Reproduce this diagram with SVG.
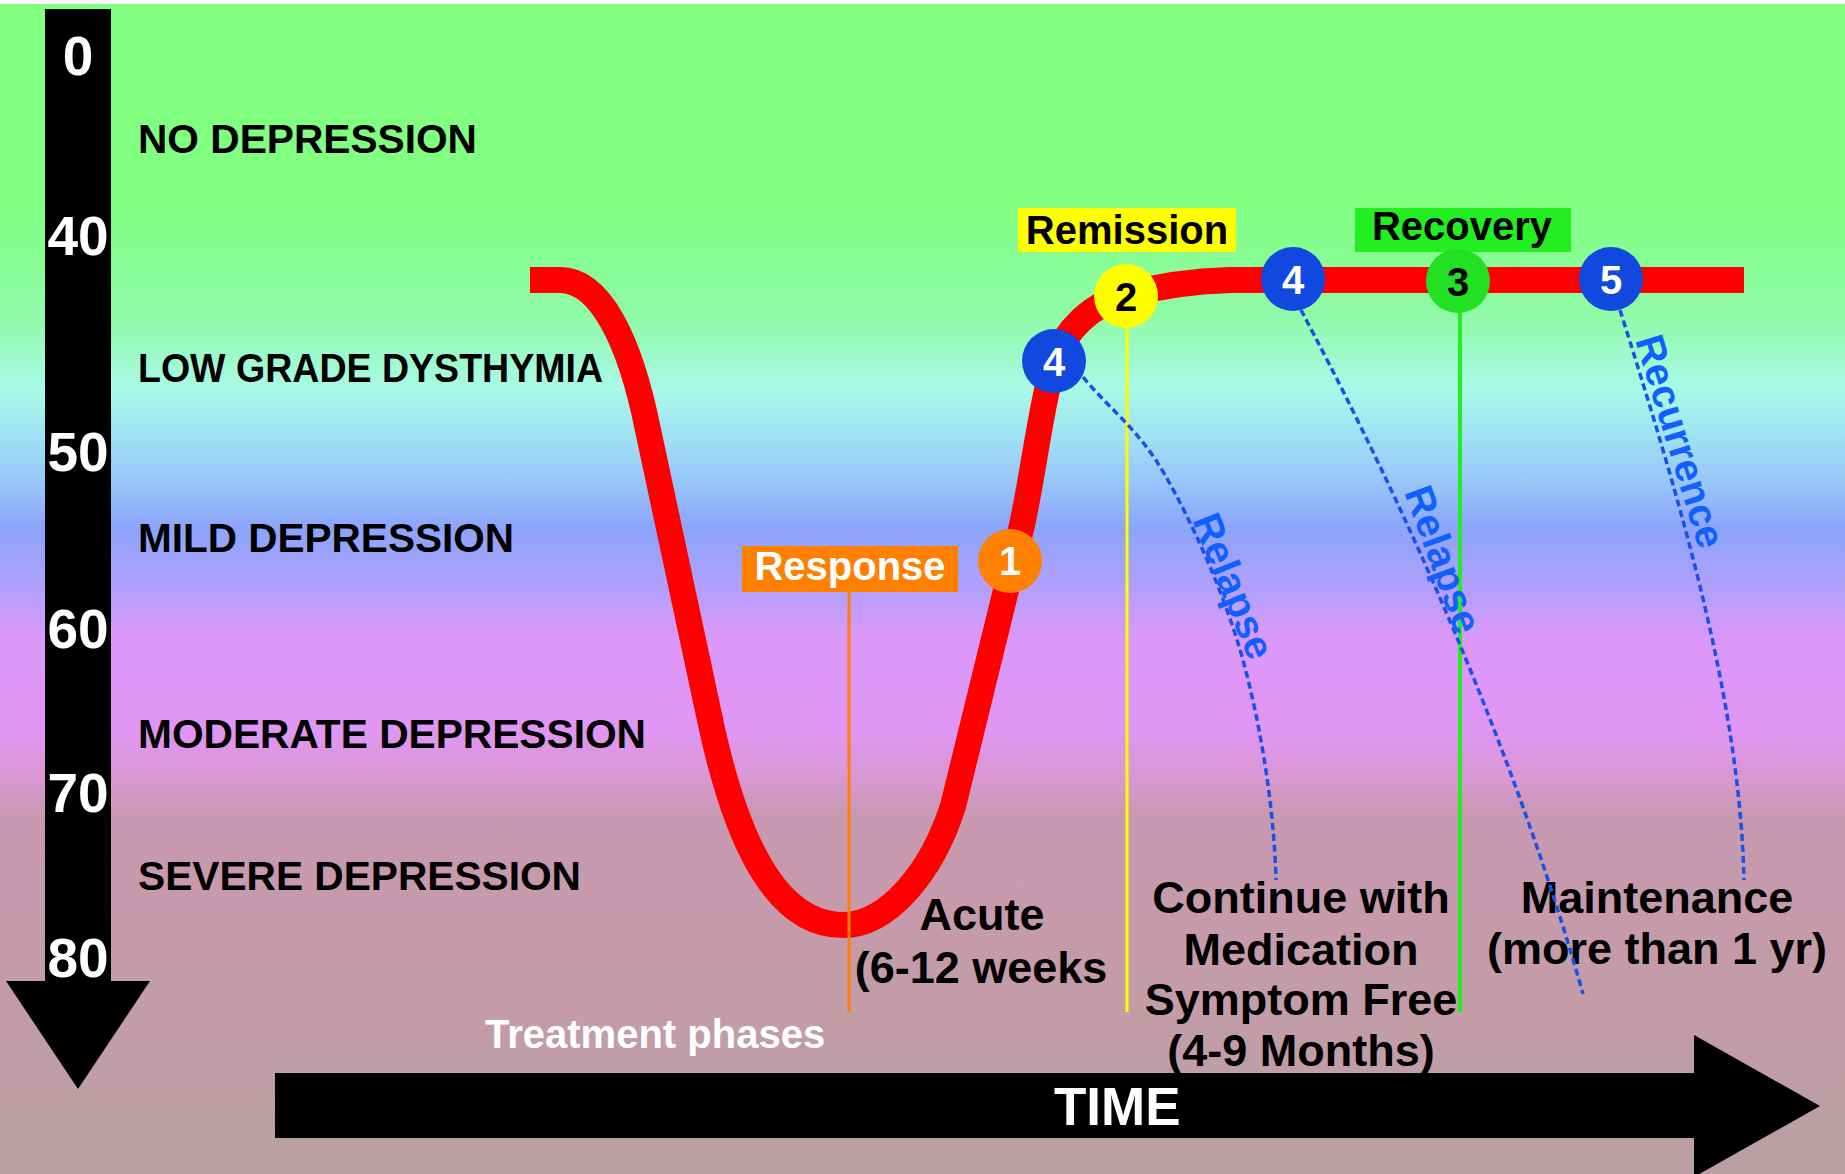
<svg xmlns="http://www.w3.org/2000/svg" width="1845" height="1174" viewBox="0 0 1845 1174">
  <defs>
    <linearGradient id="bg" gradientUnits="userSpaceOnUse" x1="0" y1="0" x2="0" y2="1174">
      <stop offset="0" stop-color="#80ff80"/>
      <stop offset="0.17" stop-color="#80ff80"/>
      <stop offset="0.27" stop-color="#90faa8"/>
      <stop offset="0.33" stop-color="#a8fae6"/>
      <stop offset="0.37" stop-color="#a0e2f4"/>
      <stop offset="0.41" stop-color="#98c6f8"/>
      <stop offset="0.45" stop-color="#8ca4fa"/>
      <stop offset="0.50" stop-color="#b0a0fc"/>
      <stop offset="0.545" stop-color="#dc98f8"/>
      <stop offset="0.62" stop-color="#e096f4"/>
      <stop offset="0.665" stop-color="#d898d0"/>
      <stop offset="0.695" stop-color="#c898b0"/>
      <stop offset="0.85" stop-color="#c49ca8"/>
      <stop offset="1" stop-color="#b8a0a4"/>
    </linearGradient>
  </defs>
  <style>
    text { font-family: "Liberation Sans", Arial, Helvetica, sans-serif; font-weight: bold; }
    .tick { fill: #ffffff; font-size: 55px; text-anchor: middle; }
    .level { fill: #000000; font-size: 40px; }
    .phase { fill: #000000; font-size: 45px; text-anchor: middle; }
    .tag { font-size: 40px; text-anchor: middle; }
    .num { font-size: 40px; text-anchor: middle; }
    .blue-txt { fill: #1060ff; font-size: 40px; }
    .dash { fill: none; stroke: #1a50e8; stroke-width: 3.5; stroke-dasharray: 7 4; }
    .vline { fill: none; }
    .blue { fill: #1048e0; }
  </style>

  <!-- background bands -->
  <rect x="0" y="0" width="1845" height="1174" fill="url(#bg)"/>
  <rect x="0" y="0" width="1845" height="4" fill="#ffffff"/>

  <!-- severity axis -->
  <g id="severity-axis">
    <path d="M45,9 H111 V981 H150 L78,1089 L6,981 H45 Z" fill="#000000"/>
    <text class="tick" x="78" y="75">0</text>
    <text class="tick" x="78" y="255">40</text>
    <text class="tick" x="78" y="471">50</text>
    <text class="tick" x="78" y="648">60</text>
    <text class="tick" x="78" y="812">70</text>
    <text class="tick" x="78" y="977">80</text>
  </g>

  <!-- severity levels -->
  <g id="levels">
    <text class="level" x="138" y="153" textLength="339" lengthAdjust="spacingAndGlyphs">NO DEPRESSION</text>
    <text class="level" x="138" y="382" textLength="465" lengthAdjust="spacingAndGlyphs">LOW GRADE DYSTHYMIA</text>
    <text class="level" x="138" y="552" textLength="376" lengthAdjust="spacingAndGlyphs">MILD DEPRESSION</text>
    <text class="level" x="138" y="748" textLength="508" lengthAdjust="spacingAndGlyphs">MODERATE DEPRESSION</text>
    <text class="level" x="138" y="890" textLength="443" lengthAdjust="spacingAndGlyphs">SEVERE DEPRESSION</text>
  </g>

  <!-- time axis -->
  <g id="time-axis">
    <path d="M275,1073 H1694 V1035 L1820,1106 L1694,1177 V1138 H275 Z" fill="#000000"/>
    <text x="1054" y="1125" fill="#ffffff" font-size="53">TIME</text>
    <text x="485" y="1048" fill="#ffffff" font-size="40">Treatment phases</text>
  </g>

  <!-- symptom course -->
  <g id="course">
    <path d="M530,280 H560 C600,280 630,340 648,430 L709,715 C735,840 775,925 843,925 C888,925 932,872 953,806 L1022,525 C1033,475 1042,400 1054,361 C1066,330 1090,305 1126,295 C1155,287 1190,281 1230,280 H1744" fill="none" stroke="#ff0000" stroke-width="26"/>
  </g>

  <!-- phase labels -->
  <g id="phase-acute">
    <text class="phase" x="982" y="930">Acute</text>
    <text class="phase" x="981" y="983">(6-12 weeks</text>
  </g>
  <g id="phase-continuation">
    <text class="phase" x="1301" y="913">Continue with</text>
    <text class="phase" x="1301" y="965">Medication</text>
    <text class="phase" x="1301" y="1015">Symptom Free</text>
    <text class="phase" x="1301" y="1066">(4-9 Months)</text>
  </g>
  <g id="phase-maintenance">
    <text class="phase" x="1657" y="913">Maintenance</text>
    <text class="phase" x="1657" y="964">(more than 1 yr)</text>
  </g>

  <!-- connectors -->
  <g id="connectors">
    <line class="vline" x1="849" y1="592" x2="849" y2="1012" stroke="#ff8000" stroke-width="3"/>
    <line class="vline" x1="1127" y1="326" x2="1127" y2="1012" stroke="#ffff00" stroke-width="3"/>
    <line class="vline" x1="1460" y1="310" x2="1460" y2="1012" stroke="#22ee22" stroke-width="4"/>
    <path class="dash" d="M1083,377 C1110,410 1138,428 1165,475 C1192,522 1224,592 1243,660 C1261,727 1274,807 1276,880"/>
    <path class="dash" d="M1301,310 C1370,440 1500,700 1583,994"/>
    <path class="dash" d="M1620,310 C1680,500 1740,700 1744,880"/>
  </g>

  <!-- milestone markers -->
  <g id="node-response">
    <rect x="742" y="546" width="216" height="46" fill="#ff8000"/>
    <text class="tag" x="850" y="580" fill="#ffffff">Response</text>
  </g>
  <g id="node-1">
    <circle cx="1010" cy="561" r="32" fill="#ff8000"/>
    <text class="num" x="1010" y="575" fill="#ffffff">1</text>
  </g>
  <g id="node-4a">
    <circle cx="1054" cy="361" r="32" class="blue"/>
    <text class="num" x="1054" y="376" fill="#ffffff">4</text>
  </g>
  <g id="node-remission">
    <rect x="1018" y="208" width="218" height="44" fill="#ffff00"/>
    <text class="tag" x="1127" y="244" fill="#000000">Remission</text>
  </g>
  <g id="node-2">
    <circle cx="1126" cy="296" r="32" fill="#ffff00"/>
    <text class="num" x="1126" y="311" fill="#000000">2</text>
  </g>
  <g id="node-4b">
    <circle cx="1293" cy="279" r="32" class="blue"/>
    <text class="num" x="1293" y="294" fill="#ffffff">4</text>
  </g>
  <g id="node-recovery">
    <rect x="1355" y="208" width="216" height="44" fill="#22ee22"/>
    <text class="tag" x="1462" y="240" fill="#000000">Recovery</text>
  </g>
  <g id="node-3">
    <circle cx="1458" cy="281" r="32" fill="#22e022"/>
    <text class="num" x="1458" y="296" fill="#000000">3</text>
  </g>
  <g id="node-5">
    <circle cx="1611" cy="279" r="32" class="blue"/>
    <text class="num" x="1611" y="294" fill="#ffffff">5</text>
  </g>

  <!-- relapse / recurrence captions -->
  <g id="captions">
    <text class="blue-txt" transform="translate(1192,520) rotate(68)">Relapse</text>
    <text class="blue-txt" transform="translate(1404,492) rotate(70)">Relapse</text>
    <text class="blue-txt" transform="translate(1635,340) rotate(73)">Recurrence</text>
  </g>
</svg>
